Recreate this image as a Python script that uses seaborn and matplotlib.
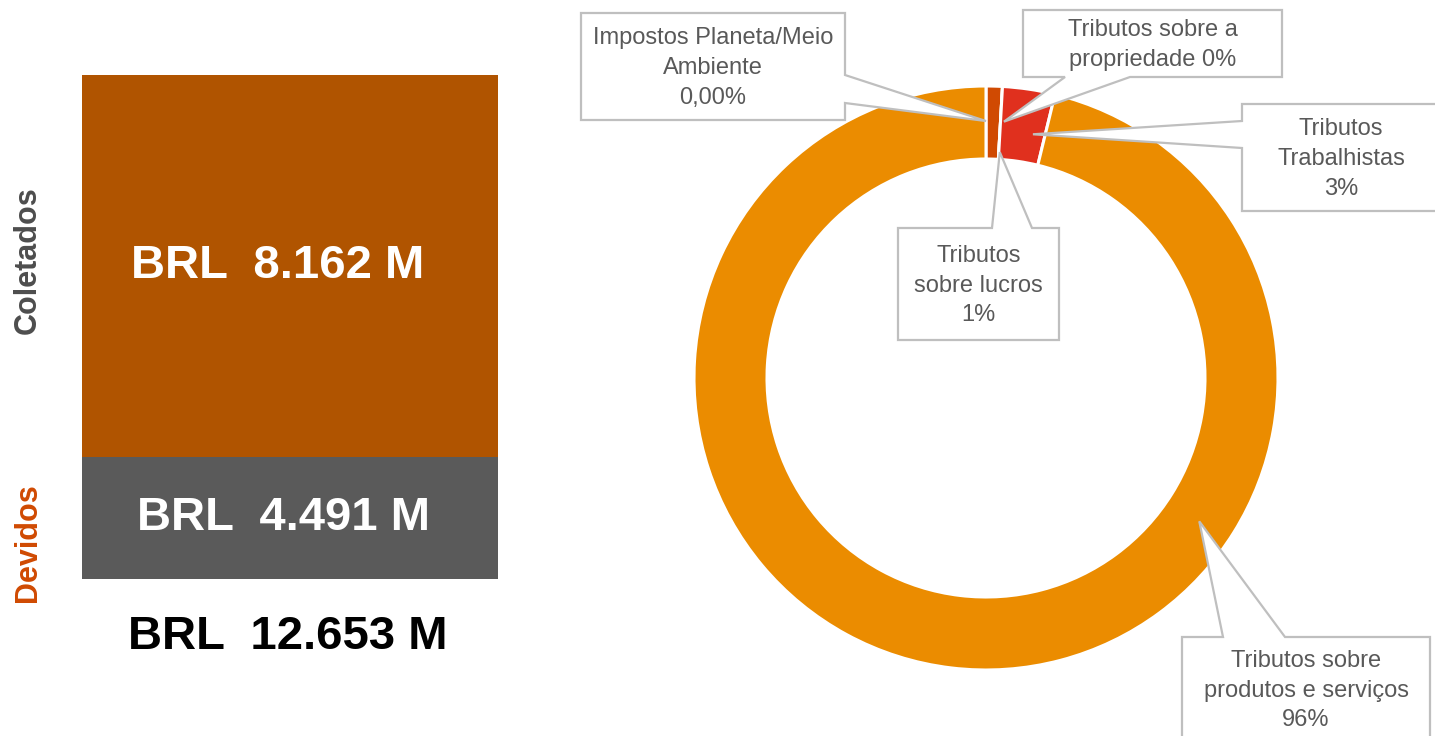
import numpy as np
import matplotlib
matplotlib.use("Agg")
import matplotlib.pyplot as plt
from matplotlib.patches import Polygon
import seaborn as sns

# left block: collected / owed (BRL million)
bar_labels = ["Coletados", "Devidos"]
bar_values = [8162, 4491]
# share of the block height each segment takes in the picture
bar_share = [75.8, 24.2]

# donut: tax categories (%)
tax_names = ["Impostos Planeta/Meio\nAmbiente", "Tributos\nsobre lucros",
             "Tributos sobre a\npropriedade", "Tributos\nTrabalhistas",
             "Tributos sobre\nprodutos e serviços"]
tax_share = [0.0, 0.9, 0.0, 2.9, 96.2]
tax_text = ["0,00%", "1%", "0%", "3%", "96%"]

sns.set_theme(style="white")
plt.rcParams['font.family'] = ['Liberation Sans', 'DejaVu Sans']

W, H = 1435, 736
fig = plt.figure(figsize=(W / 100, H / 100), dpi=100)

BROWN = "#B05400"
GRAY = "#5A5A5A"
TXT = "#595959"
EDGE = "#BFBFBF"


def fmt(v):
    return "BRL  " + f"{v:,}".replace(",", ".") + " M"


# ---- stacked block ----
bx0, bx1, by0, by1 = 82, 498, 75, 579
ax_bar = fig.add_axes([bx0 / W, (H - by1) / H, (bx1 - bx0) / W, (by1 - by0) / H])
sns.barplot(x=["Total"], y=[sum(bar_share)], color=BROWN, width=1, saturation=1,
            linewidth=0, ax=ax_bar)
sns.barplot(x=["Total"], y=[bar_share[1]], color=GRAY, width=1, saturation=1,
            linewidth=0, ax=ax_bar)
ax_bar.set_xlim(-0.5, 0.5)
ax_bar.set_ylim(0, sum(bar_share))
ax_bar.axis("off")

mid_top = bar_share[1] + bar_share[0] / 2
mid_bot = bar_share[1] / 2
ax_bar.text(-0.03, mid_top, fmt(bar_values[0]), color="white", fontsize=34,
            fontweight="bold", ha="center", va="center")
ax_bar.text(-0.015, mid_bot, fmt(bar_values[1]), color="white", fontsize=34,
            fontweight="bold", ha="center", va="center")

# ---- donut ----
cx, cy, R = 986, 378, 292
ax_pie = fig.add_axes([(cx - R) / W, (H - cy - R) / H, 2 * R / W, 2 * R / H])
colors = ["#FFB600", "#D04A02", "#DB536A", "#E0301E", "#EB8C00"]
ax_pie.pie(tax_share, colors=colors, startangle=90, counterclock=False, radius=1,
           wedgeprops=dict(width=0.25, edgecolor="white", linewidth=2.2))
ax_pie.set_xlim(-1, 1)
ax_pie.set_ylim(-1, 1)
ax_pie.axis("off")

# ---- overlay in pixel coords for labels and callouts ----
ov = fig.add_axes([0, 0, 1, 1], zorder=5)
ov.set_xlim(0, W)
ov.set_ylim(H, 0)
ov.axis("off")
ov.patch.set_alpha(0)

ov.text(288, 637, fmt(sum(bar_values)), color="black", fontsize=34,
        fontweight="bold", ha="center", va="center")
ov.text(28, 260, bar_labels[0], color="#4D4D4D", fontsize=22, fontweight="bold",
        rotation=90, ha="center", va="center")
ov.text(28, 543, bar_labels[1], color="#D04A02", fontsize=22, fontweight="bold",
        rotation=90, ha="center", va="center")


def polar(ang, frac):
    a = np.radians(ang)
    return (cx + R * frac * np.sin(a), cy - R * frac * np.cos(a))


def callout(box, side, a, b, tip, text):
    x0, y0, x1, y1 = box
    if side == "right":
        pts = [(x0, y0), (x1, y0), (x1, a), tip, (x1, b), (x1, y1), (x0, y1)]
    elif side == "left":
        pts = [(x0, y0), (x1, y0), (x1, y1), (x0, y1), (x0, b), tip, (x0, a)]
    elif side == "bottom":
        pts = [(x0, y0), (x1, y0), (x1, y1), (b, y1), tip, (a, y1), (x0, y1)]
    else:  # top
        pts = [(x0, y0), (a, y0), tip, (b, y0), (x1, y0), (x1, y1), (x0, y1)]
    ov.add_patch(Polygon(pts, closed=True, facecolor="white", edgecolor=EDGE,
                         linewidth=1.6, zorder=6))
    ov.text((x0 + x1) / 2, (y0 + y1) / 2 + 1.5, text, color=TXT, fontsize=17,
            ha="center", va="center", linespacing=1.45, zorder=7)


callout((581, 13, 845, 120), "right", 75, 103, polar(0, 0.88),
        tax_names[0] + "\n" + tax_text[0])
callout((898, 228, 1059, 340), "top", 992, 1032, polar(3.5, 0.775),
        tax_names[1] + "\n" + tax_text[1])
callout((1023, 10, 1282, 77), "bottom", 1065, 1130, polar(4.0, 0.88),
        tax_names[2] + " " + tax_text[2])
callout((1242, 104, 1440, 211), "left", 121, 148, polar(10.9, 0.85),
        tax_names[3] + "\n" + tax_text[3])
callout((1182, 637, 1430, 741), "top", 1223, 1285, polar(123.9, 0.88),
        tax_names[4] + "\n" + tax_text[4])

fig.savefig("out.png", dpi=100)
